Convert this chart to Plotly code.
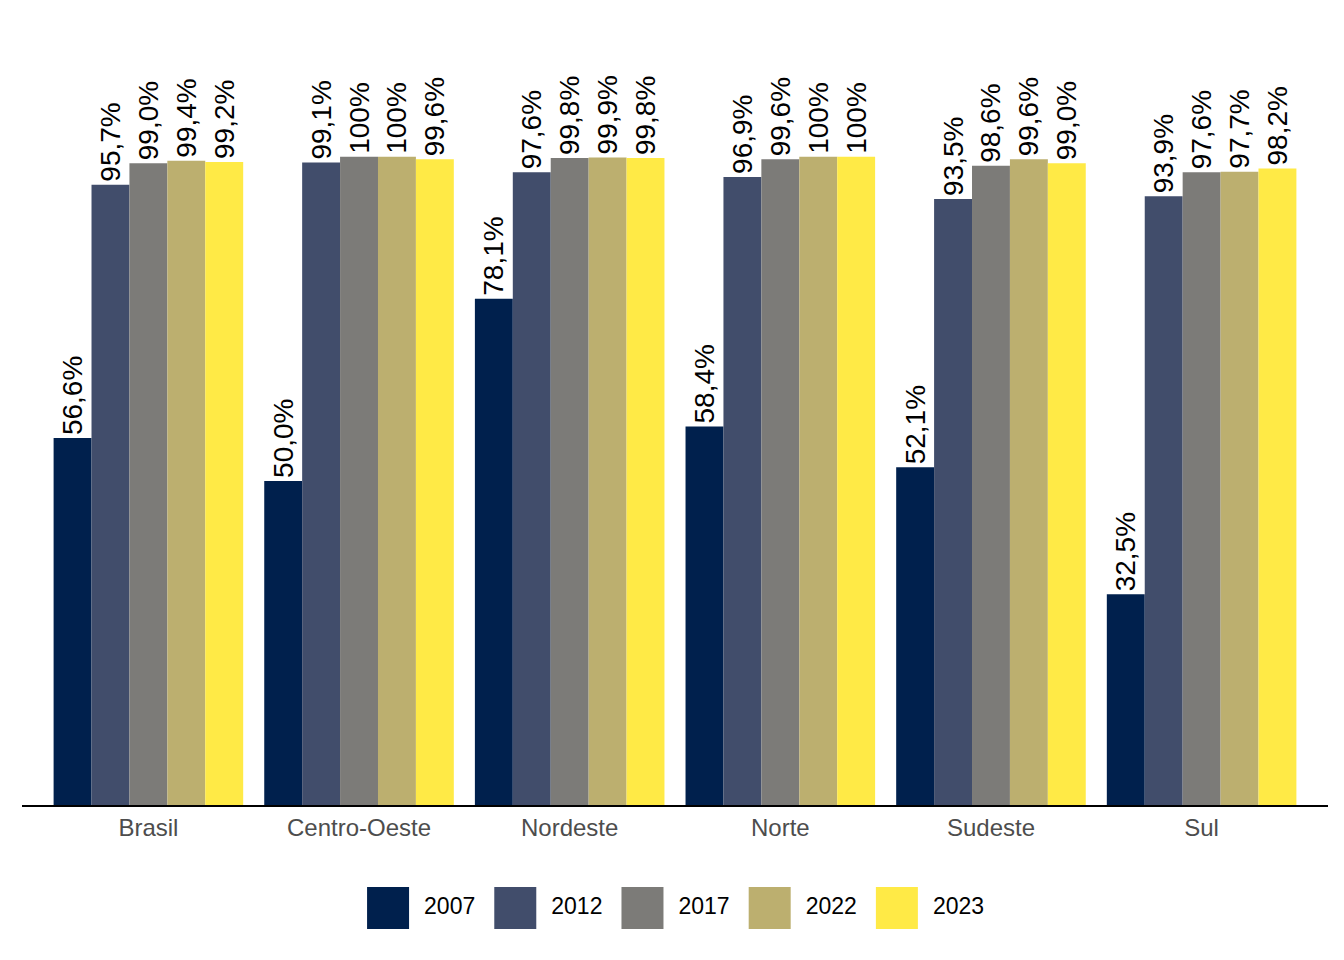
import plotly.graph_objects as go

regions = ["Brasil", "Centro-Oeste", "Nordeste", "Norte", "Sudeste", "Sul"]
years = ["2007", "2012", "2017", "2022", "2023"]
colors = ["#00204D", "#414D6B", "#7C7B78", "#BCAF6F", "#FFEA46"]

v2007 = [56.6, 50.0, 78.1, 58.4, 52.1, 32.5]
v2012 = [95.7, 99.1, 97.6, 96.9, 93.5, 93.9]
v2017 = [99.0, 100.0, 99.8, 99.6, 98.6, 97.6]
v2022 = [99.4, 100.0, 99.9, 100.0, 99.6, 97.7]
v2023 = [99.2, 99.6, 99.8, 100.0, 99.0, 98.2]
series = [v2007, v2012, v2017, v2022, v2023]


def fmt(v):
    if round(v, 1) == 100:
        return "100%"
    return f"{v:.1f}".replace(".", ",") + "%"


FONT = "Liberation Sans"
fig = go.Figure()
for name, vals, col in zip(years, series, colors):
    fig.add_trace(go.Bar(
        x=regions, y=vals, name=name,
        marker=dict(color=col, line=dict(width=0)),
        text=[fmt(v) for v in vals],
        textposition="outside",
        textangle=-90,
        constraintext="none",
        cliponaxis=False,
        textfont=dict(family=FONT, size=28, color="black"),
        showlegend=False,
        xaxis="x", yaxis="y",
    ))

# legend keys (large squares) drawn on a small helper axis below the chart
fig.add_trace(go.Scatter(
    x=years, y=[0] * len(years), mode="markers",
    marker=dict(symbol="square", size=42, color=colors, line=dict(width=0)),
    showlegend=False, hoverinfo="skip", cliponaxis=False,
    xaxis="x2", yaxis="y2",
))
fig.add_trace(go.Scatter(
    x=years, y=[0] * len(years), mode="markers+text",
    marker=dict(symbol="square", size=56, color="rgba(0,0,0,0)", line=dict(width=0)),
    text=years, textposition="middle right",
    textfont=dict(family=FONT, size=23, color="black"),
    showlegend=False, hoverinfo="skip", cliponaxis=False,
    xaxis="x2", yaxis="y2",
))

fig.update_layout(
    width=1344, height=960,
    barmode="group", bargap=0.1, bargroupgap=0,
    plot_bgcolor="white", paper_bgcolor="white",
    margin=dict(l=14, r=24, t=12, b=28),
    font=dict(family=FONT),
    showlegend=False,
    xaxis=dict(
        type="category", range=[-0.6, 5.6], domain=[0, 1],
        showline=True, linecolor="black", linewidth=2,
        showgrid=False, ticks="", ticklabelstandoff=0,
        tickfont=dict(size=24, color="#4D4D4D", family=FONT),
        anchor="y",
    ),
    yaxis=dict(
        range=[0, 121.1], domain=[0.1467, 1], showgrid=False, zeroline=False,
        showticklabels=False, ticks="", showline=False, anchor="x",
    ),
    xaxis2=dict(
        type="category", range=[-0.5, 4.5], domain=[0.2316, 0.7186],
        visible=False, anchor="y2",
    ),
    yaxis2=dict(
        range=[-1, 1], domain=[0, 0.0696], visible=False, anchor="x2",
    ),
)

fig.write_html("out.html")
